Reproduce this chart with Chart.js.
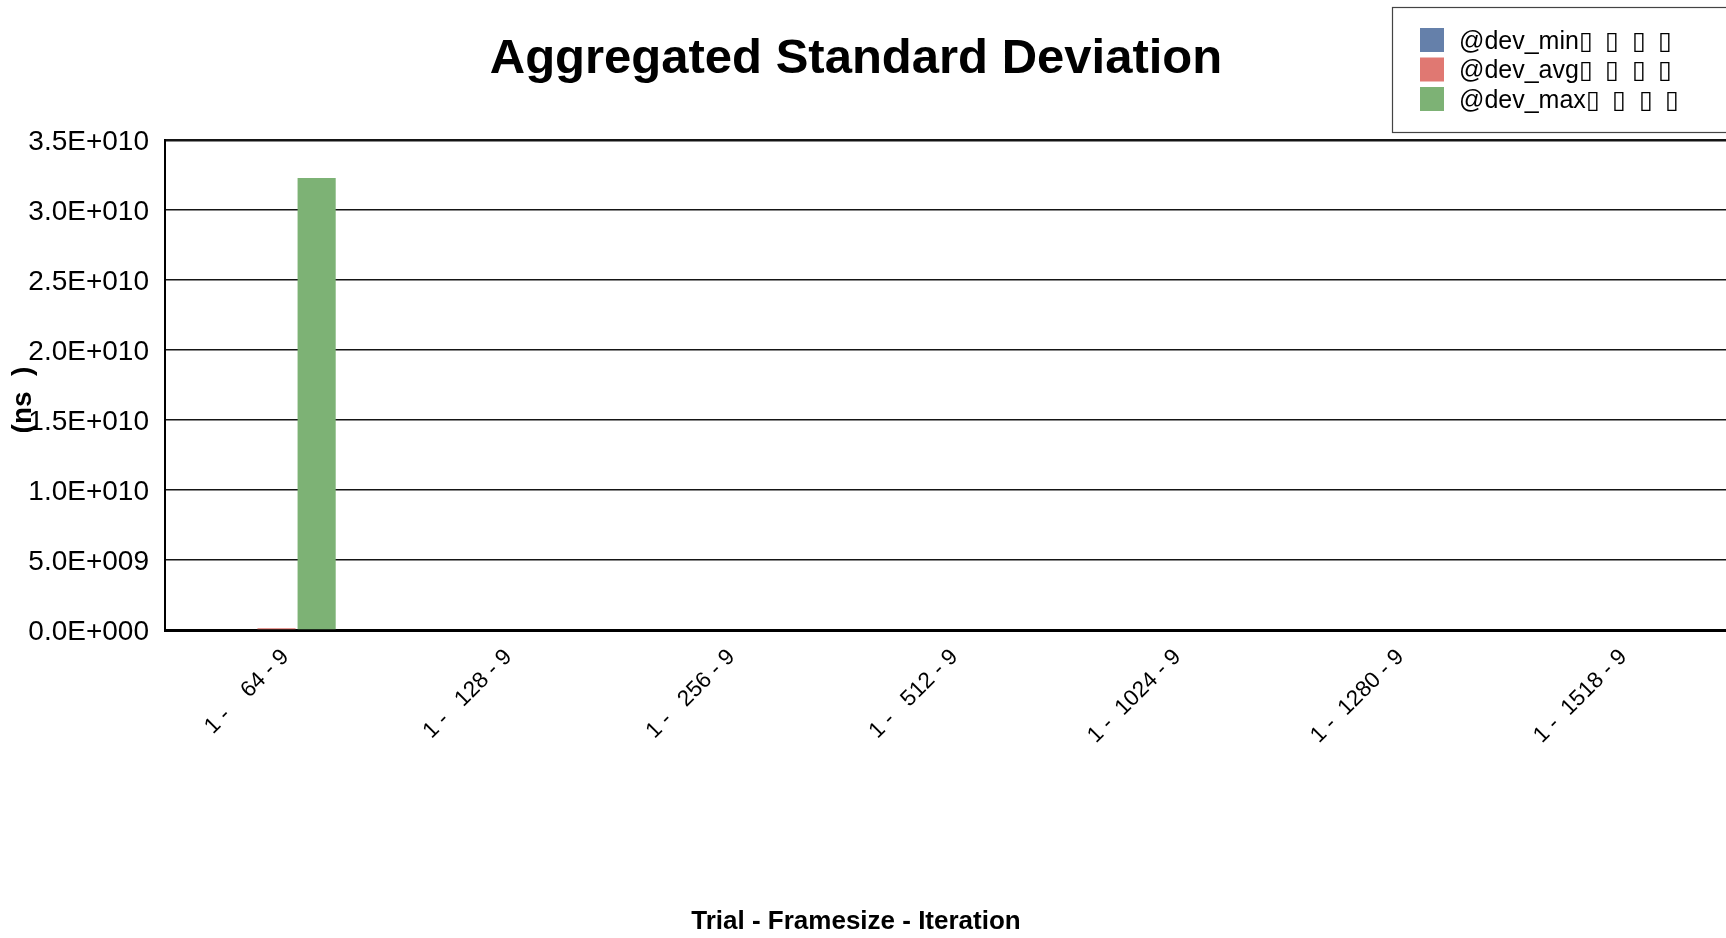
<!DOCTYPE html>
<html><head><meta charset="utf-8">
<script src="https://cdn.jsdelivr.net/npm/chart.js@4"></script>
<style>
html,body{margin:0;padding:0;background:#fff;overflow:hidden;}
#wrap{position:relative;width:1726px;height:938px;overflow:hidden;}
canvas{display:block;}
</style></head><body>
<div id="wrap"><canvas id="c" width="1726" height="938"></canvas></div>
<script>
// ---- data ----
const categories = ["1 -    64 - 9", "1 -   128 - 9", "1 -   256 - 9", "1 -   512 - 9", "1 -  1024 - 9", "1 -  1280 - 9", "1 -  1518 - 9"];
const seriesLabels = ["@dev_min\u25AF\u2002\u25AF\u2002\u25AF\u2002\u25AF", "@dev_avg\u25AF\u2002\u25AF\u2002\u25AF\u2002\u25AF", "@dev_max\u25AF\u2002\u25AF\u2002\u25AF\u2002\u25AF"];
const devMin = [0, 0, 0, 0, 0, 0, 0];
const devAvg = [1.2e8, 0, 0, 0, 0, 0, 0];
const devMax = [3.228e10, 0, 0, 0, 0, 0, 0];
const yMin = 0, yMax = 3.5e10, yStep = 5e9;
const chartTitle = "Aggregated Standard Deviation";
const xTitle = "Trial - Framesize - Iteration";
const yTitle = "(ns  )";
const colors = ["#6580aa", "#e07872", "#7db275"];

const FONT = "'Liberation Sans', Arial, sans-serif";

function fmtE(v) {
  const s = Number(v).toExponential(1); // e.g. 3.5e+10
  const m = s.split('e');
  const sign = m[1][0] === '-' ? '-' : '+';
  const ex = m[1].replace(/[+-]/, '').padStart(3, '0');
  return m[0] + 'E' + sign + ex;
}

const textPlugin = {
  id: 'texts',
  afterDraw(chart) {
    const ctx = chart.ctx;
    ctx.save();
    ctx.fillStyle = '#000';
    ctx.textAlign = 'center';
    ctx.textBaseline = 'middle';
    ctx.font = "bold 49px " + FONT;
    ctx.fillText(chartTitle, 856, 59);
    ctx.font = "bold 26px " + FONT;
    ctx.fillText(xTitle, 856, 922);
    ctx.save();
    ctx.translate(23, 400);
    ctx.rotate(-Math.PI / 2);
    ctx.font = "bold 28px " + FONT;
    ctx.fillText(yTitle, 0, 0);
    ctx.restore();
    // legend
    ctx.fillStyle = '#fff';
    ctx.fillRect(1392, 7, 400, 125);
    ctx.strokeStyle = '#444';
    ctx.lineWidth = 1.2;
    ctx.strokeRect(1392.5, 7.5, 400, 125);
    const ds = chart.data.datasets;
    ctx.textAlign = 'left';
    ctx.font = "25px " + FONT;
    for (let i = 0; i < ds.length; i++) {
      const y = 28 + i * 29.5;
      ctx.fillStyle = ds[i].backgroundColor;
      ctx.fillRect(1420, y, 24, 24);
      ctx.fillStyle = '#000';
      ctx.fillText(ds[i].label, 1459, y + 14);
    }
    ctx.restore();
  }
};

new Chart(document.getElementById('c'), {
  type: 'bar',
  data: {
    labels: categories,
    datasets: [
      { label: seriesLabels[0], data: devMin, backgroundColor: colors[0] },
      { label: seriesLabels[1], data: devAvg, backgroundColor: colors[1] },
      { label: seriesLabels[2], data: devMax, backgroundColor: colors[2] }
    ]
  },
  options: {
    responsive: false,
    animation: false,
    devicePixelRatio: 1,
    layout: { padding: { top: 140, right: 0, bottom: 0, left: 0 } },
    datasets: { bar: { categoryPercentage: 0.54, barPercentage: 0.95 } },
    plugins: { legend: { display: false }, title: { display: false }, tooltip: { enabled: false } },
    scales: {
      x: {
        z: 1,
        grid: { display: false, drawTicks: false },
        border: { display: true, color: '#000', width: 3 },
        ticks: { minRotation: 45, maxRotation: 45, autoSkip: false, padding: 14, labelOffset: 9, color: '#000', font: { family: FONT, size: 22.5 } },
        afterFit(s) { s.height = 308; }
      },
      y: {
        min: yMin, max: yMax,
        grid: { color: '#151515', lineWidth: (c) => (c.index === 7 ? 2.5 : 1.6), drawTicks: false },
        border: { display: true, color: '#000', width: 2 },
        ticks: { stepSize: yStep, padding: 16, labelOffset: 2, color: '#000', font: { family: FONT, size: 28 }, callback: (v) => fmtE(v) },
        afterFit(s) { s.width = 165; }
      }
    }
  },
  plugins: [textPlugin]
});
</script>
</body></html>
